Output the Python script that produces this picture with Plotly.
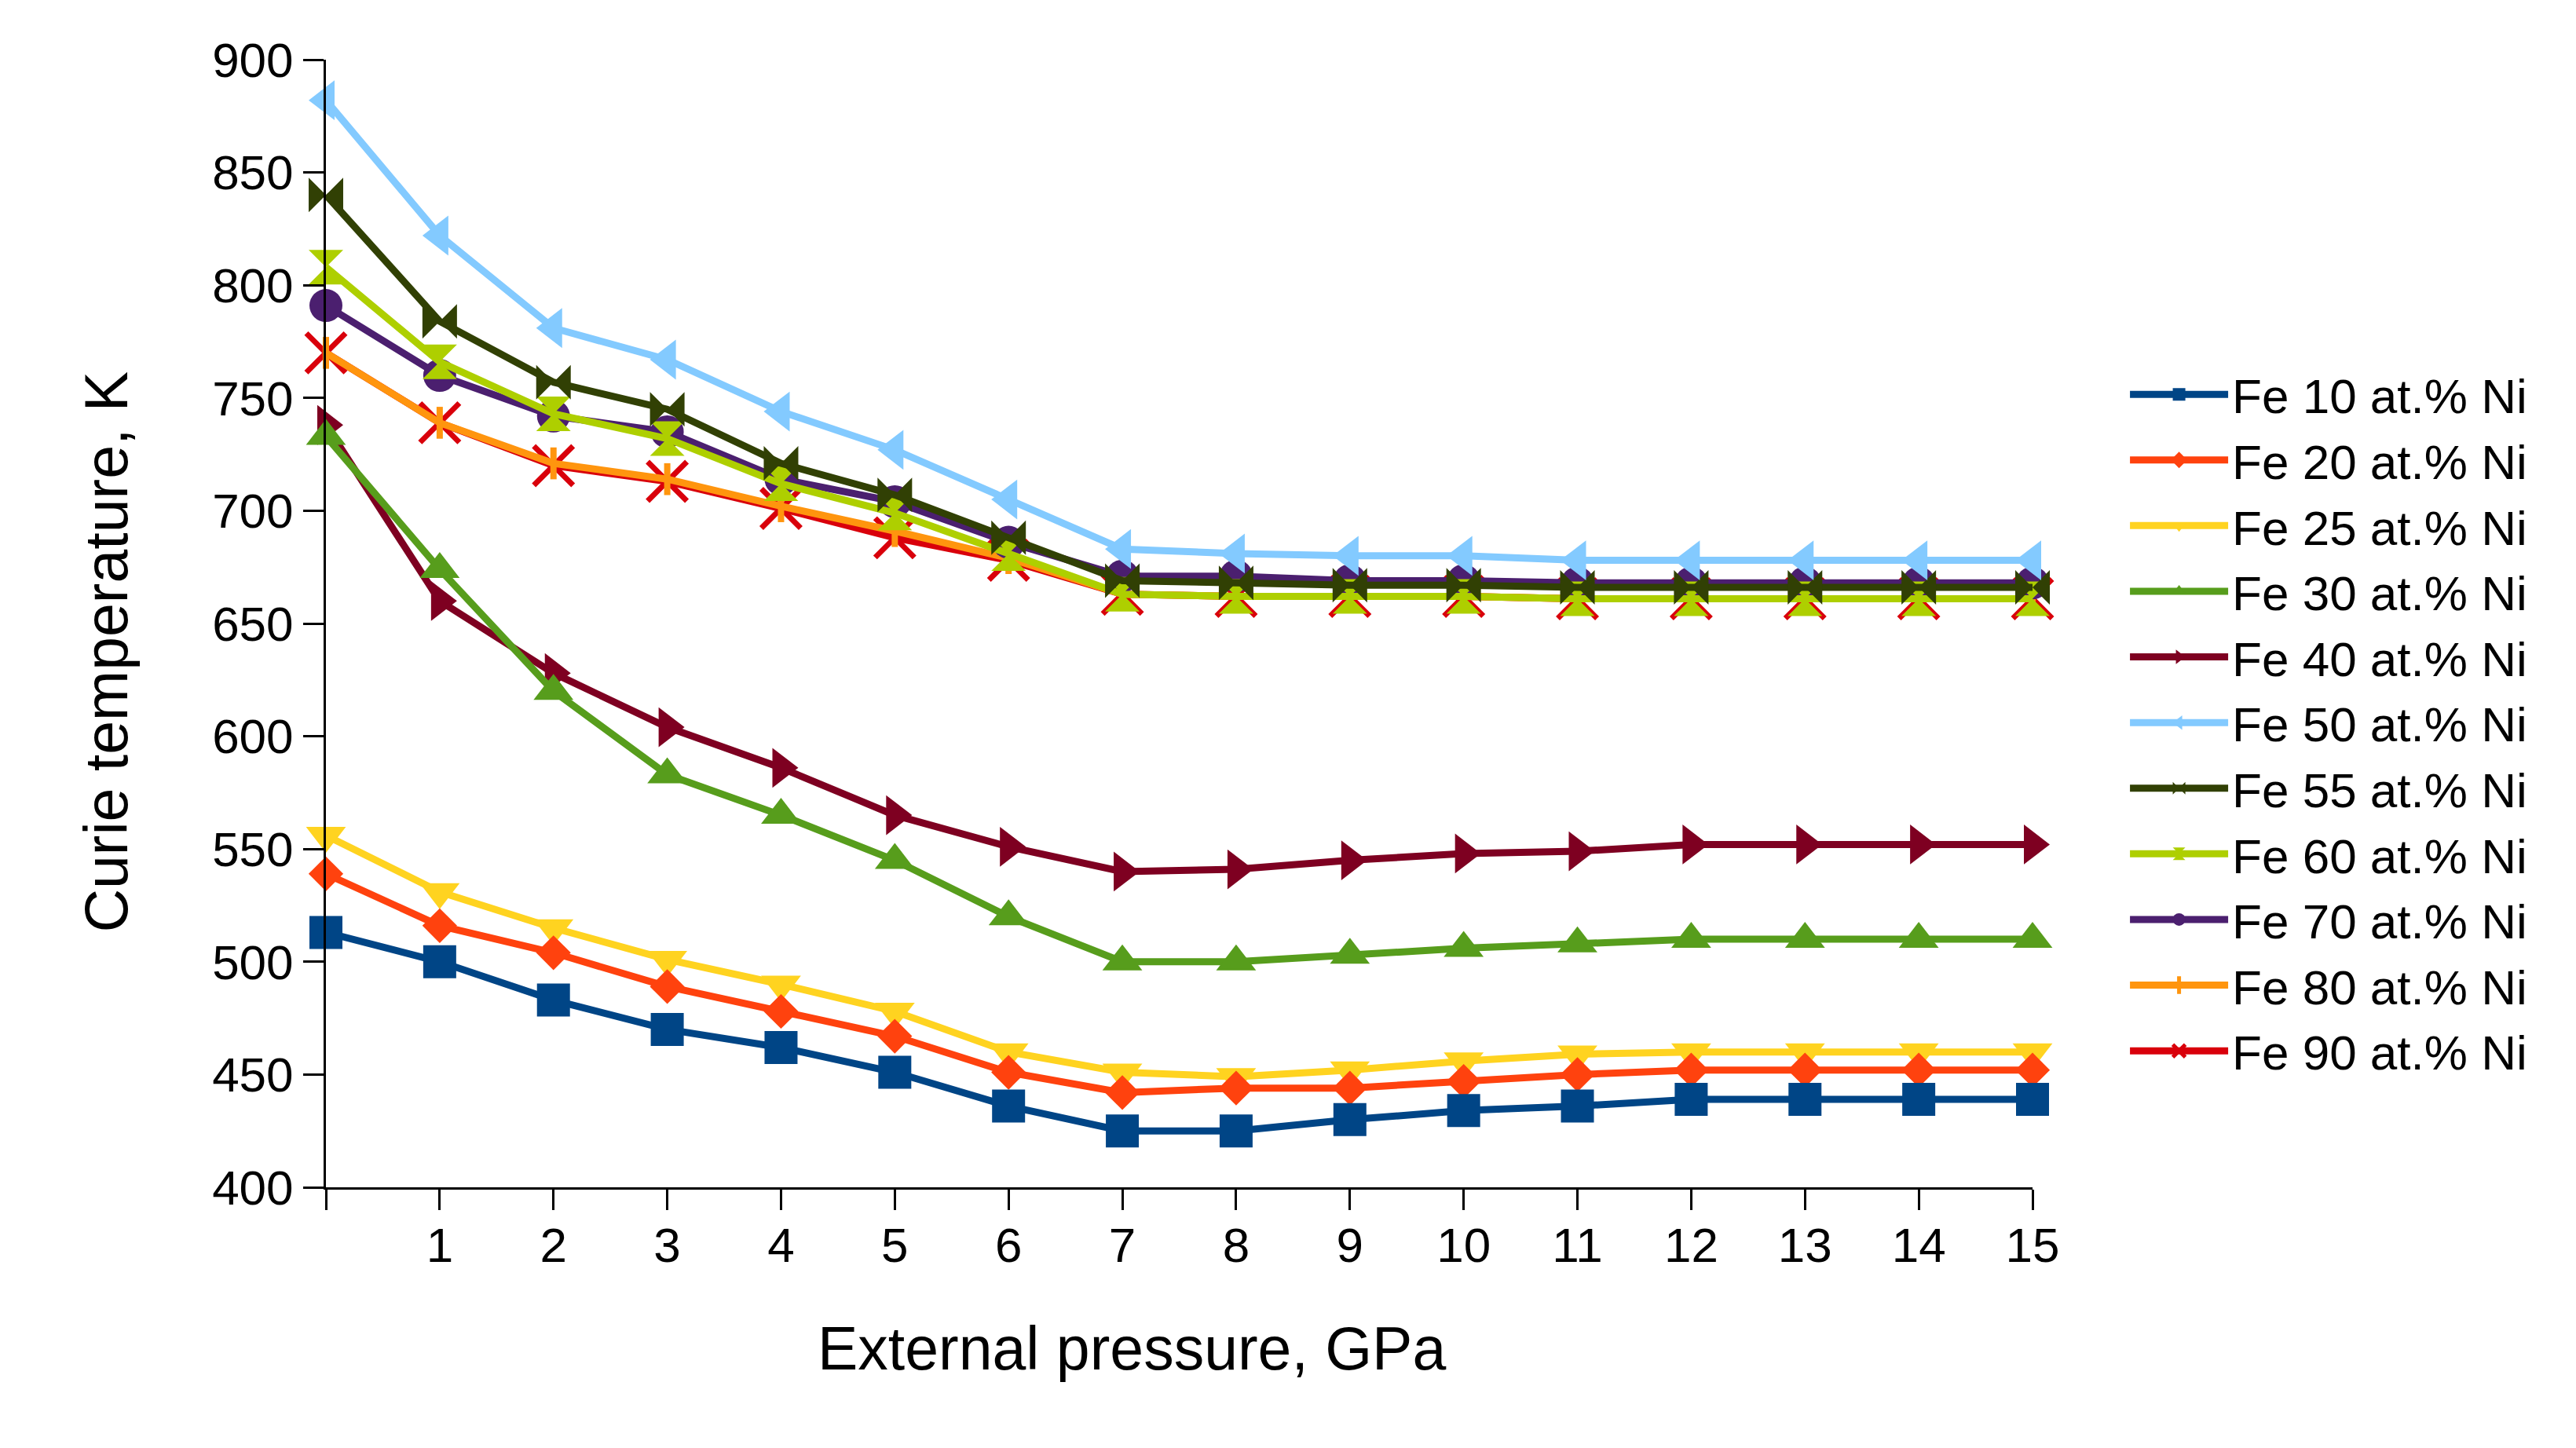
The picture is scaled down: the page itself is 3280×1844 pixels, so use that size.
import plotly.graph_objects as go

pressure = list(range(16))
tick_labels = [""] + [str(i) for i in range(1, 16)]

names = ["Fe 10 at.% Ni", "Fe 20 at.% Ni", "Fe 25 at.% Ni", "Fe 30 at.% Ni",
         "Fe 40 at.% Ni", "Fe 50 at.% Ni", "Fe 55 at.% Ni", "Fe 60 at.% Ni",
         "Fe 70 at.% Ni", "Fe 80 at.% Ni", "Fe 90 at.% Ni"]

fe10 = [513, 500, 483, 470, 462, 451, 436, 425, 425, 430, 434, 436, 439, 439, 439, 439]
fe20 = [539, 516, 504, 489, 478, 467, 451, 442, 444, 444, 447, 450, 452, 452, 452, 452]
fe25 = [556, 531, 515, 501, 490, 478, 460, 451, 449, 452, 456, 459, 460, 460, 460, 460]
fe30 = [733, 674, 620, 583, 565, 545, 520, 500, 500, 503, 506, 508, 510, 510, 510, 510]
fe40 = [738, 660, 628, 604, 586, 565, 551, 540, 541, 545, 548, 549, 552, 552, 552, 552]
fe50 = [882, 822, 781, 767, 744, 727, 705, 683, 681, 680, 680, 678, 678, 678, 678, 678]
fe55 = [840, 784, 757, 745, 721, 707, 688, 669, 668, 667, 667, 666, 666, 666, 666, 666]
fe60 = [808, 766, 743, 732, 712, 699, 681, 663, 662, 662, 662, 661, 661, 661, 661, 661]
fe70 = [791, 760, 742, 735, 714, 704, 686, 671, 671, 669, 669, 668, 668, 668, 668, 668]
fe80 = [770, 739, 721, 714, 702, 691, 679, 663, 662, 662, 662, 661, 661, 661, 661, 661]
fe90 = [770, 739, 720, 713, 701, 688, 678, 663, 662, 662, 662, 661, 661, 661, 661, 661]

series = [fe10, fe20, fe25, fe30, fe40, fe50, fe55, fe60, fe70, fe80, fe90]
colors = ["#004586", "#ff420e", "#ffd320", "#579d1c", "#7e0021", "#83caff",
          "#314004", "#aecf00", "#4b1f6f", "#ff950e", "#d9000b"]
symbols = ["square", "diamond", "triangle-down", "triangle-up", "triangle-right",
           "triangle-left", "bowtie", "hourglass", "circle", "line-ns", "x-thin"]
sizes = [42, 34, 44, 44, 44, 44, 44, 44, 42, 29, 50]
mline = [0, 0, 0, 0, 0, 0, 0, 0, 0, 8, 7]

FONT = "Liberation Sans"

fig = go.Figure()
# draw in reverse order (first series on top), legend reversed back
for name, vals, col, sym, sz, mlw in reversed(list(zip(names, series, colors, symbols, sizes, mline))):
    fig.add_trace(go.Scatter(
        x=pressure, y=vals, name=name, mode="lines+markers",
        line=dict(color=col, width=9),
        marker=dict(symbol=sym, size=sz, color=col, line=dict(color=col, width=mlw)),
        cliponaxis=False,
    ))

fig.update_layout(
    width=3280, height=1844,
    paper_bgcolor="white", plot_bgcolor="white",
    margin=dict(l=407, r=700, t=68, b=340),
    font=dict(family=FONT, size=62, color="black"),
    legend=dict(traceorder="reversed", x=1.0548, y=0.412, xanchor="left", yanchor="middle",
                font=dict(family=FONT, size=62, color="black"), itemwidth=125,
                bgcolor="rgba(0,0,0,0)"),
    xaxis=dict(range=[0, 15], tickvals=pressure, ticktext=tick_labels,
               showgrid=False, zeroline=False, showline=True, linecolor="black",
               linewidth=3, ticks="outside", ticklen=26, tickwidth=3, tickcolor="black",
               ticklabelstandoff=-8,
               tickfont=dict(family=FONT, size=62, color="black")),
    yaxis=dict(range=[400, 900], dtick=50, showgrid=False, zeroline=False,
               showline=True, linecolor="black", linewidth=3, ticks="outside",
               ticklen=26, tickwidth=3, tickcolor="black",
               tickfont=dict(family=FONT, size=62, color="black")),
    annotations=[
        dict(text="External pressure, GPa", xref="paper", yref="paper", x=0.472, y=-0.143,
             xanchor="center", yanchor="middle", showarrow=False,
             font=dict(family=FONT, size=77, color="black")),
        dict(text="Curie temperature, K", xref="paper", yref="paper", x=-0.129, y=0.475,
             xanchor="center", yanchor="middle", showarrow=False, textangle=-90,
             font=dict(family=FONT, size=77, color="black")),
    ],
)

fig.write_html("out.html")
